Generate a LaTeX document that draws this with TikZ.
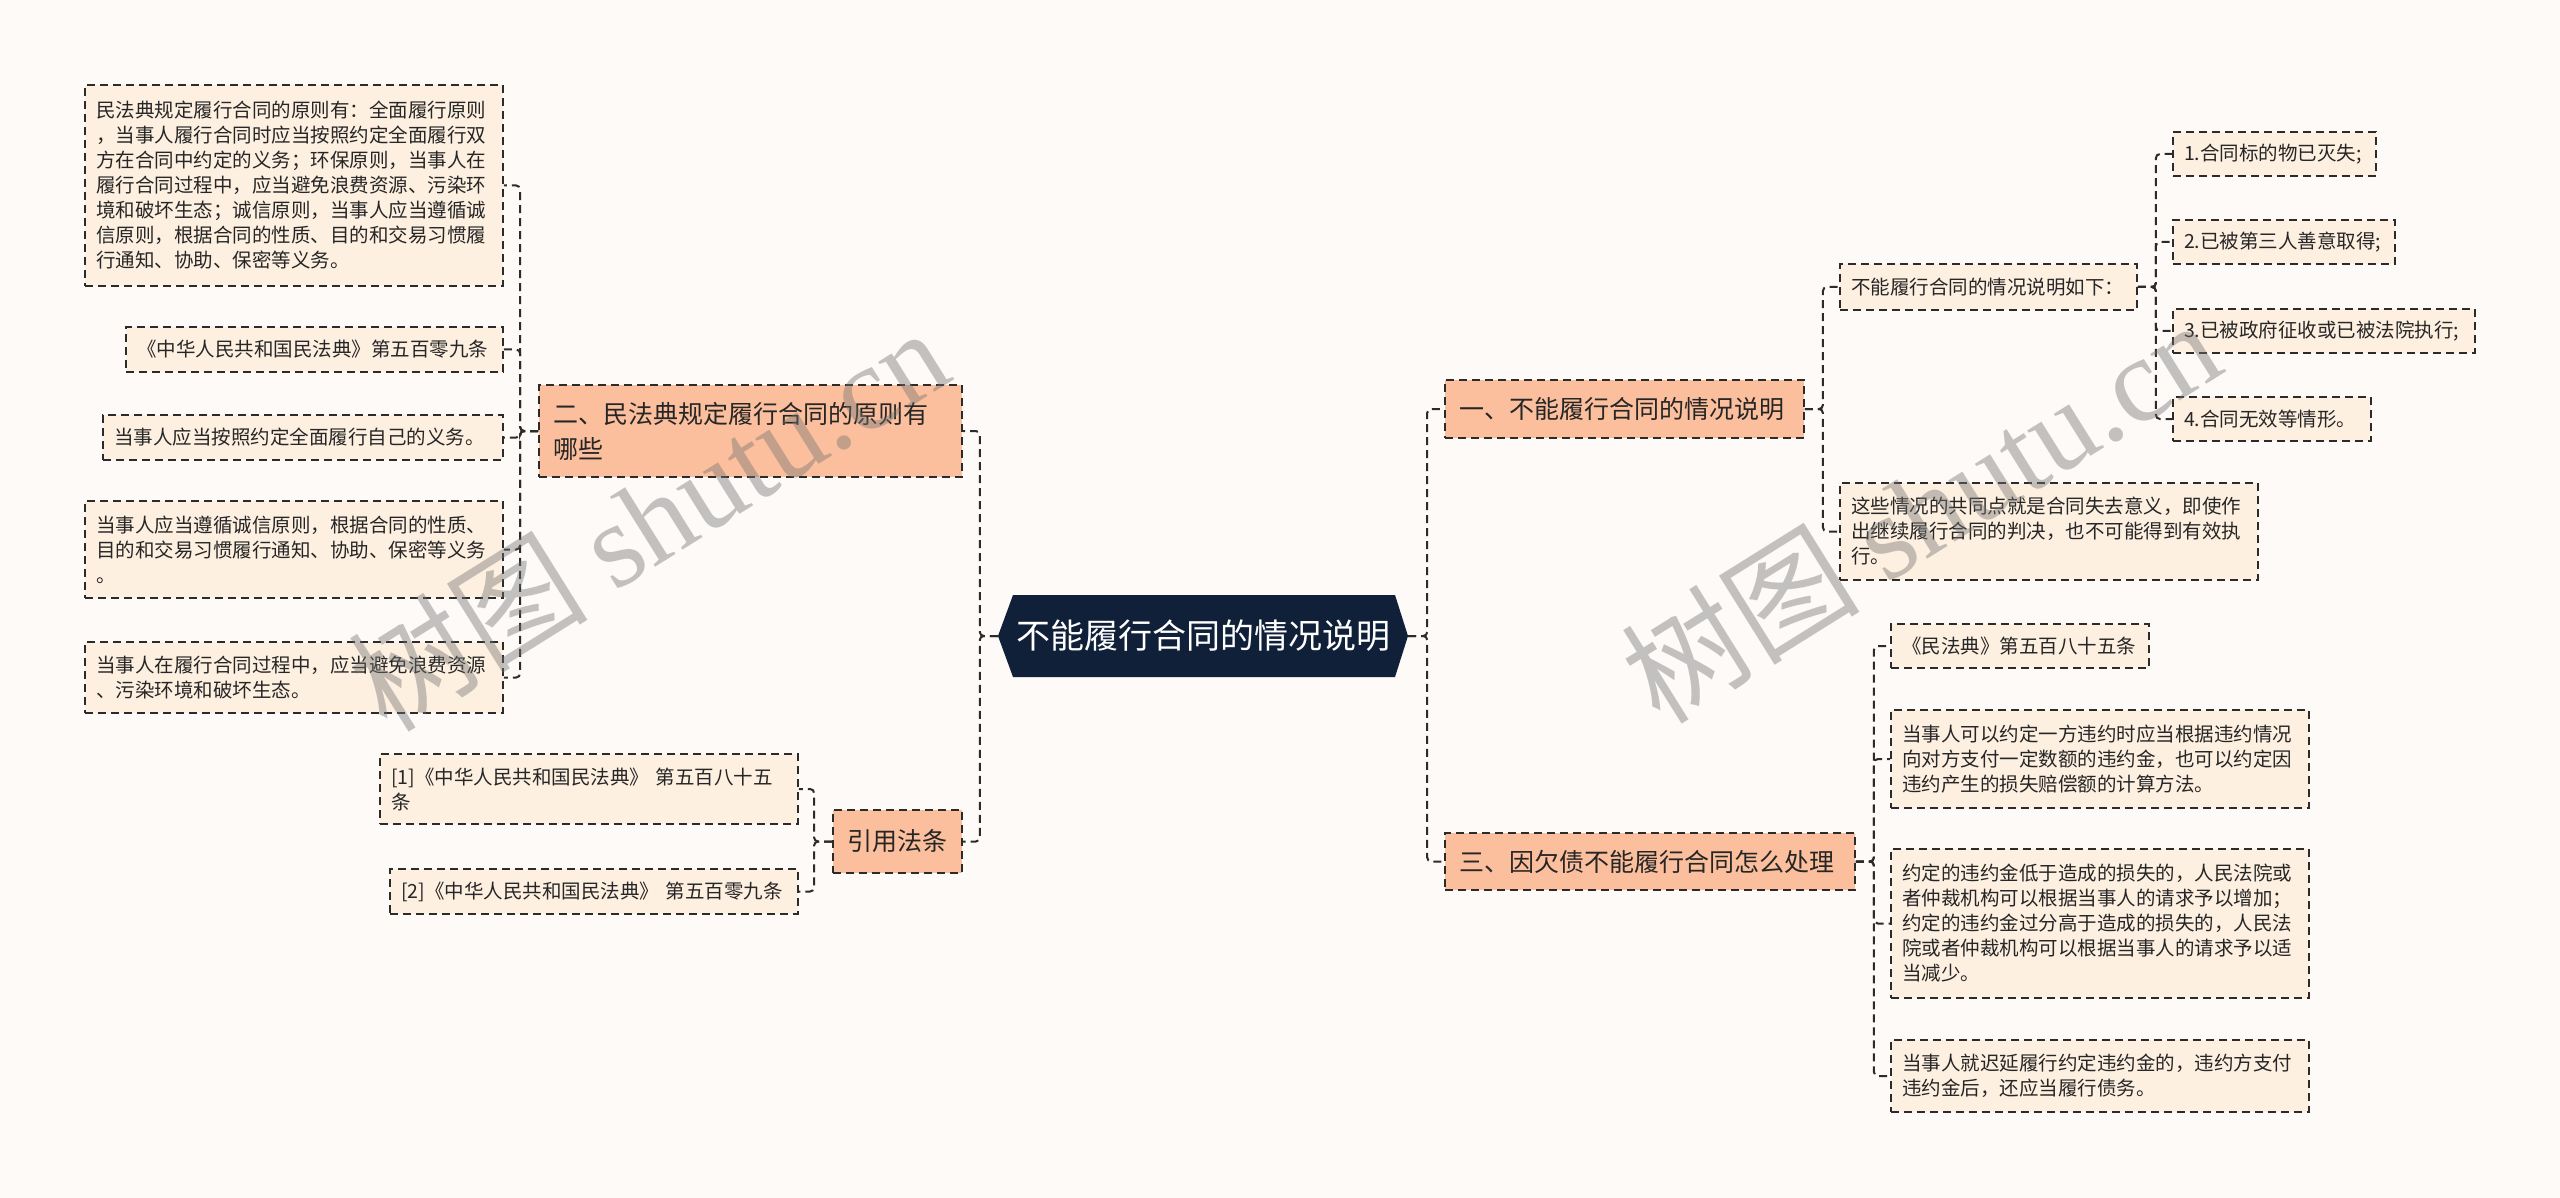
\documentclass[tikz,border=0pt]{standalone}
\usepackage{fontspec}
\setmainfont{Noto Sans CJK SC}
\newfontfamily\wmlatin{Liberation Serif}
\definecolor{bgc}{HTML}{FDFAF8}
\definecolor{leafc}{HTML}{FEF0E1}
\definecolor{branchc}{HTML}{FBBF9D}
\definecolor{rootc}{HTML}{0F2038}
\definecolor{linec}{HTML}{2B2B2B}
\tikzset{
  box/.style={draw=linec, line width=1.8pt, dash pattern=on 8pt off 5pt, align=left,
    inner xsep=11pt, inner ysep=0pt, text=black!85},
  leaf/.style={box, fill=leafc, font=\fontsize{19.5}{25}\selectfont},
  branch/.style={box, fill=branchc, font=\fontsize{25}{35}\selectfont, inner xsep=14pt},
  conn/.style={draw=linec, line width=2pt, dash pattern=on 8pt off 5pt, rounded corners=4pt},
  wm/.style={text=black!55, text opacity=0.42, rotate=32, inner sep=0pt,
    font=\fontsize{120}{122}\selectfont}
}
\begin{document}
\begin{tikzpicture}[x=1pt,y=-1pt]
\useasboundingbox (0,0) rectangle (2560,1198);
\fill[bgc] (0,0) rectangle (2560,1198);

% root
\fill[rootc] (998,636) -- (1013,595) -- (1395,595) -- (1408,636) -- (1395,677) -- (1013,677) -- cycle;
\node[font=\fontsize{34}{38}\selectfont, text=white, minimum width=410pt, minimum height=82pt, inner sep=0pt] (root) at (1203,636) {不能履行合同的情况说明};

% left branches
\node[branch, minimum width=423pt, minimum height=92pt, text width=395pt] (b) at (750.5,431) {二、民法典规定履行合同的原则有\\哪些};
\node[branch, minimum width=129pt, minimum height=63pt, text width=101pt] (c) at (897.5,841.5) {引用法条};

\node[leaf, minimum width=418pt, minimum height=201pt, text width=396pt] (a1) at (294,185.5) {民法典规定履行合同的原则有：全面履行原则\\，当事人履行合同时应当按照约定全面履行双\\方在合同中约定的义务；环保原则，当事人在\\履行合同过程中，应当避免浪费资源、污染环\\境和破坏生态；诚信原则，当事人应当遵循诚\\信原则，根据合同的性质、目的和交易习惯履\\行通知、协助、保密等义务。};
\node[leaf, minimum width=377pt, minimum height=45pt, text width=355pt] (a2) at (314.5,349.5) {《中华人民共和国民法典》第五百零九条};
\node[leaf, minimum width=400pt, minimum height=45pt, text width=378pt] (a3) at (303,437.5) {当事人应当按照约定全面履行自己的义务。};
\node[leaf, minimum width=418pt, minimum height=97pt, text width=396pt] (a4) at (294,549.5) {当事人应当遵循诚信原则，根据合同的性质、\\目的和交易习惯履行通知、协助、保密等义务\\。};
\node[leaf, minimum width=418pt, minimum height=71pt, text width=396pt] (a5) at (294,677.5) {当事人在履行合同过程中，应当避免浪费资源\\、污染环境和破坏生态。};

\node[leaf, minimum width=418pt, minimum height=70pt, text width=396pt] (c1) at (589,789) {[1]《中华人民共和国民法典》~第五百八十五\\条};
\node[leaf, minimum width=408pt, minimum height=45pt, text width=386pt] (c2) at (594,891.5) {[2]《中华人民共和国民法典》~第五百零九条};

% right branches
\node[branch, minimum width=359pt, minimum height=58pt, text width=331pt] (d) at (1624.5,409) {一、不能履行合同的情况说明};
\node[branch, minimum width=410pt, minimum height=57pt, text width=382pt] (f) at (1650,861.5) {三、因欠债不能履行合同怎么处理};

\node[leaf, minimum width=297pt, minimum height=46pt, text width=275pt] (d1) at (1988.5,287) {不能履行合同的情况说明如下：};
\node[leaf, minimum width=418pt, minimum height=97pt, text width=396pt] (d2) at (2049,531.5) {这些情况的共同点就是合同失去意义，即使作\\出继续履行合同的判决，也不可能得到有效执\\行。};

\node[leaf, minimum width=203pt, minimum height=44pt, text width=181pt] (e1) at (2274.5,154) {1.合同标的物已灭失;};
\node[leaf, minimum width=222pt, minimum height=44pt, text width=200pt] (e2) at (2284,242) {2.已被第三人善意取得;};
\node[leaf, minimum width=302pt, minimum height=44pt, text width=280pt] (e3) at (2324,331) {3.已被政府征收或已被法院执行;};
\node[leaf, minimum width=198pt, minimum height=44pt, text width=176pt] (e4) at (2272,419) {4.合同无效等情形。};

\node[leaf, minimum width=258pt, minimum height=44pt, text width=236pt] (f1) at (2020,646) {《民法典》第五百八十五条};
\node[leaf, minimum width=418pt, minimum height=98pt, text width=396pt] (f2) at (2100,759) {当事人可以约定一方违约时应当根据违约情况\\向对方支付一定数额的违约金，也可以约定因\\违约产生的损失赔偿额的计算方法。};
\node[leaf, minimum width=418pt, minimum height=149pt, text width=396pt] (f3) at (2100,923.5) {约定的违约金低于造成的损失的，人民法院或\\者仲裁机构可以根据当事人的请求予以增加；\\约定的违约金过分高于造成的损失的，人民法\\院或者仲裁机构可以根据当事人的请求予以适\\当减少。};
\node[leaf, minimum width=418pt, minimum height=72pt, text width=396pt] (f4) at (2100,1076) {当事人就迟延履行约定违约金的，违约方支付\\违约金后，还应当履行债务。};

% connectors
\draw[conn] (root.west) -- ++(-18,0) |- (b.east);
\draw[conn] (root.west) -- ++(-18,0) |- (c.east);
\draw[conn] (root.east) -- ++(19,0) |- (d.west);
\draw[conn] (root.east) -- ++(19,0) |- (f.west);
\foreach \k in {a1,a2,a3,a4,a5}{\draw[conn] (b.west) -- ++(-18,0) |- (\k.east);}
\foreach \k in {c1,c2}{\draw[conn] (c.west) -- ++(-18,0) |- (\k.east);}
\foreach \k in {d1,d2}{\draw[conn] (d.east) -- ++(18,0) |- (\k.west);}
\foreach \k in {e1,e2,e3,e4}{\draw[conn] (d1.east) -- ++(18,0) |- (\k.west);}
\foreach \k in {f1,f2,f3,f4}{\draw[conn] (f.east) -- ++(18,0) |- (\k.west);}

% watermarks
\node[wm] (wm1) at (648,518) {树图 {\wmlatin shutu.cn}};
\node[wm] (wm2) at (1920,510) {树图 {\wmlatin shutu.cn}};
\end{tikzpicture}
\end{document}
